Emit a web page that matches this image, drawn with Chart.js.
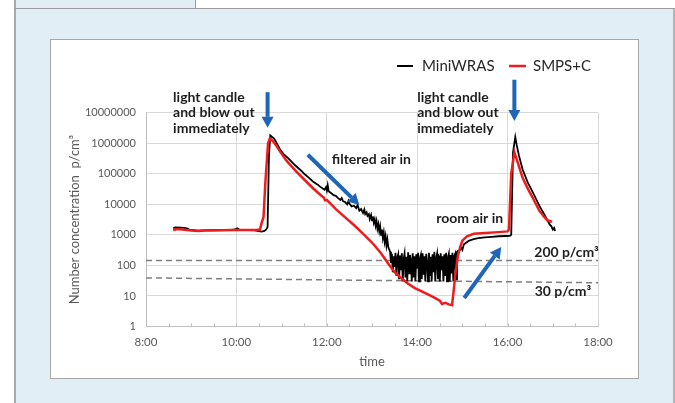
<!DOCTYPE html>
<html>
<head>
<meta charset="utf-8">
<script src="https://cdn.jsdelivr.net/npm/chart.js@4"></script>
<style>
  body { margin: 0; width: 675px; height: 403px; background: #fff; position: relative; overflow: hidden; font-family: Lato, sans-serif; }
  #tab { position: absolute; left: 14px; top: 0; width: 179px; height: 8px; background: #e1eef5; border-left: 2px solid #a9a9a9; border-right: 1px solid #9a9a9a; }
  #panel { position: absolute; left: 14px; top: 8px; width: 657px; height: 400px; background: #e1eef5; border-left: 2px solid #a9a9a9; border-right: 2px solid #b4b4b4; border-top: 1px solid #9a9a9a; }
  #box { position: absolute; left: 50px; top: 39px; width: 587px; height: 338px; background: #fff; border: 1px solid #a6a6a6; }
  canvas { position: absolute; left: 0; top: 0; }
</style>
</head>
<body>
<div id="tab"></div>
<div id="panel"></div>
<div id="box"><canvas id="grafico" width="587" height="338"></canvas></div>
<script>
// time in hours, concentration in p/cm3
const miniTime = [8.60, 8.65, 8.75, 8.85, 8.92, 8.97, 9.05, 9.15, 9.30, 9.45, 9.60, 9.75, 9.90, 9.97, 10.02, 10.08, 10.25, 10.40, 10.50, 10.56, 10.62, 10.66, 10.69, 10.72, 10.75, 10.79, 10.82, 10.85, 10.90, 10.96, 11.05, 11.15,
  11.30, 11.45, 11.50, 11.60, 11.70, 11.80, 11.85, 11.95, 11.98, 12.00, 12.02, 12.04, 12.10, 12.15, 12.20, 12.25, 12.30, 12.33, 12.36, 12.40, 12.45, 12.48, 12.50, 12.55, 12.60, 12.65, 12.68, 12.72, 12.76, 12.80, 12.83, 12.85, 12.88, 12.90, 12.93, 12.95, 12.98, 13.00, 13.02, 13.04, 13.06, 13.08, 13.10, 13.12, 13.14, 13.16, 13.18, 13.20, 13.22, 13.24, 13.26, 13.28, 13.30, 13.32, 13.34, 13.36,
  13.40, 13.42, 13.44, 13.46, 13.48, 13.50, 13.52, 13.54, 13.56, 13.58, 13.60, 13.62, 13.64, 13.66, 13.68, 13.70, 13.72, 13.74, 13.76, 13.78, 13.80, 13.82, 13.84, 13.86, 13.88, 13.90, 13.92, 13.94, 13.96, 13.98, 14.00, 14.02, 14.04, 14.06, 14.08, 14.10, 14.12, 14.14, 14.16, 14.18, 14.20, 14.22, 14.24, 14.26, 14.28, 14.30, 14.32, 14.34, 14.36, 14.38, 14.40, 14.42, 14.44, 14.46, 14.48, 14.50, 14.52, 14.54, 14.56, 14.58, 14.60, 14.62, 14.64, 14.66, 14.68, 14.70, 14.72, 14.74, 14.76, 14.78, 14.80, 14.82, 14.84, 14.86, 14.88, 14.90,
  14.93, 14.97, 15.00, 15.03, 15.08, 15.15, 15.25, 15.35, 15.50, 15.65, 15.80, 15.95, 16.05, 16.08, 16.12, 16.17, 16.20, 16.25, 16.33, 16.45, 16.55, 16.65, 16.72, 16.80, 16.87, 16.93, 16.97, 17.00, 17.03, 17.05];
const miniConc = [1650, 1750, 1720, 1700, 1600, 1450, 1420, 1380, 1400, 1420, 1430, 1420, 1450, 1500, 1650, 1430, 1420, 1400, 1330, 1280, 1350, 1500, 1800, 400000, 1800000, 1600000, 1500000, 1300000, 950000, 650000, 430000, 320000,
  190000, 120000, 100000, 75000, 55000, 44000, 38000, 30000, 36000, 28000, 42000, 27000, 23000, 20000, 19000, 16000, 14000, 16000, 12500, 12000, 10000, 13000, 10500, 8500, 9000, 7500, 9500, 6200, 7000, 5200, 6800, 4800, 5500, 4200, 4800, 3300, 4500, 3000, 4000, 2500, 3200, 2000, 2800, 1600, 2200, 1300, 1900, 1000, 1500, 800, 1200, 600, 900, 450, 700, 400,
  280, 120, 240, 60, 200, 90, 260, 45, 180, 230, 35, 210, 70, 250, 30, 160, 240, 40, 190, 30, 270, 55, 220, 140, 30, 250, 40, 200, 30, 230, 80, 260, 30, 170, 220, 35, 250, 50, 200, 30, 240, 130, 30, 260, 45, 190, 30, 230, 60, 280, 30, 170, 240, 35, 210, 30, 250, 70, 200, 30, 230, 45, 260, 30, 180, 240, 30, 220, 55, 260, 30, 200, 240, 35, 280, 300,
  300, 380, 320, 480, 550, 650, 720, 780, 830, 860, 900, 920, 930, 1000, 500000, 1600000, 900000, 400000, 140000, 50000, 26000, 13000, 8000, 5000, 3200, 2200, 1900, 1500, 1700, 1350];

const smpsTime = [8.60, 8.70, 8.80, 8.90, 9.00, 9.15, 9.30, 9.50, 9.70, 9.90, 10.10, 10.30, 10.45, 10.52, 10.56, 10.60, 10.64, 10.70, 10.74, 10.80, 10.88, 10.96, 11.10, 11.30, 11.50, 11.70, 11.90, 11.93, 11.96, 12.00, 12.20, 12.40, 12.60, 12.80, 13.00, 13.20, 13.35, 13.50, 13.65, 13.80, 13.95, 14.10, 14.25, 14.40, 14.50, 14.55, 14.62, 14.70, 14.77, 14.80, 14.85, 14.90, 14.95, 15.00, 15.10, 15.25, 15.50, 15.80, 16.00, 16.03, 16.08, 16.15, 16.20, 16.33, 16.45, 16.55, 16.70, 16.80, 16.88, 16.95, 16.98];
const smpsConc = [1450, 1550, 1500, 1450, 1400, 1340, 1380, 1400, 1420, 1450, 1440, 1450, 1460, 1480, 2500, 3800, 50000, 1000000, 1450000, 1200000, 850000, 550000, 280000, 130000, 65000, 33000, 18000, 17000, 13500, 14000, 7000, 3800, 2100, 1100, 560, 250, 120, 60, 38, 25, 18, 14, 11, 8.5, 7, 5.5, 6, 5.3, 5, 12, 60, 200, 400, 650, 900, 1080, 1150, 1230, 1300, 1500, 100000, 500000, 300000, 76000, 32000, 17000, 6200, 4000, 3000, 2800, 2600];

// reference levels (dashed lines)
const level200 = [145, 145];
const level30 = [39, 27];
const levelTime = [8, 18];

const timeTicks = [8, 10, 12, 14, 16, 18];
const timeLabels = ["8:00", "10:00", "12:00", "14:00", "16:00", "18:00"];
const concTicks = [1, 10, 100, 1000, 10000, 100000, 1000000, 10000000];

// annotations in data coordinates [hour, value]
const arrows = [
  [10.69, 4.7e7, 10.69, 3.2e6],
  [16.15, 1.2e8, 16.15, 5.3e6],
  [11.58, 4.2e5, 12.72, 9500],
  [15.04, 8.6, 15.86, 400],
];
const notes = [
  { t: 8.6, v: 3.2e7, lines: ["light candle", "and blow out", "immediately"] },
  { t: 14.0, v: 3.2e7, lines: ["light candle", "and blow out", "immediately"] },
  { t: 12.11, v: 3.0e5, lines: ["filtered air in"] },
  { t: 14.42, v: 3550, lines: ["room air in"] },
  { t: 16.59, v: 260, lines: ["200 p/cm³"] },
  { t: 16.6, v: 14, lines: ["30 p/cm³"] },
];

const pts = (xs, ys) => xs.map((t, i) => ({ x: t, y: ys[i] }));

function drawArrow(ctx, x1, y1, x2, y2) {
  const ang = Math.atan2(y2 - y1, x2 - x1);
  const head = 11, half = 6;
  const bx = x2 - head * Math.cos(ang), by = y2 - head * Math.sin(ang);
  ctx.strokeStyle = "#1f66b8";
  ctx.fillStyle = "#1f66b8";
  ctx.lineWidth = 4;
  ctx.beginPath();
  ctx.moveTo(x1, y1);
  ctx.lineTo(bx, by);
  ctx.stroke();
  ctx.beginPath();
  ctx.moveTo(x2, y2);
  ctx.lineTo(bx + half * Math.sin(ang), by - half * Math.cos(ang));
  ctx.lineTo(bx - half * Math.sin(ang), by + half * Math.cos(ang));
  ctx.closePath();
  ctx.fill();
}

const extras = {
  id: "extras",
  afterDraw(chart) {
    const { ctx, scales: { x, y } } = chart;
    ctx.save();
    // minor ticks every 30 min
    ctx.strokeStyle = "#bfbfbf";
    ctx.lineWidth = 1;
    for (let h = 8.5; h < 18; h += 0.5) {
      const px = Math.round(x.getPixelForValue(h)) + 0.5;
      ctx.beginPath();
      ctx.moveTo(px, y.bottom);
      ctx.lineTo(px, y.bottom - 3);
      ctx.stroke();
    }
    arrows.forEach(a => drawArrow(ctx, x.getPixelForValue(a[0]), y.getPixelForValue(a[1]), x.getPixelForValue(a[2]), y.getPixelForValue(a[3])));
    ctx.fillStyle = "#1e1e1e";
    ctx.font = "bold 14px Lato";
    ctx.textBaseline = "middle";
    ctx.textAlign = "left";
    notes.forEach(n => {
      const px = x.getPixelForValue(n.t), py = y.getPixelForValue(n.v);
      n.lines.forEach((s, i) => ctx.fillText(s, px, py + i * 15.5));
    });
    // legend
    ctx.font = "15px Lato";
    ctx.fillStyle = "#262626";
    ctx.lineWidth = 2;
    ctx.strokeStyle = "#000";
    ctx.beginPath(); ctx.moveTo(346, 26); ctx.lineTo(362, 26); ctx.stroke();
    ctx.fillText("MiniWRAS", 371, 26);
    ctx.strokeStyle = "#ee1c1c";
    ctx.lineWidth = 2.5;
    ctx.beginPath(); ctx.moveTo(458, 26); ctx.lineTo(475, 26); ctx.stroke();
    ctx.fillText("SMPS+C", 482, 26);
    ctx.restore();
  }
};

new Chart(document.getElementById("grafico"), {
  type: "line",
  data: {
    datasets: [
      {
        label: "SMPS+C",
        data: pts(smpsTime, smpsConc),
        borderColor: "#ee1c1c",
        borderWidth: 2.5,
        pointRadius: 0,
        tension: 0,
      },
      {
        label: "MiniWRAS",
        data: pts(miniTime, miniConc),
        borderColor: "#000000",
        borderWidth: 1.8,
        pointRadius: 0,
        tension: 0,
      },
      {
        label: "200",
        data: pts(levelTime, level200),
        borderColor: "#7f7f7f",
        borderWidth: 1.5,
        borderDash: [6, 4],
        pointRadius: 0,
      },
      {
        label: "30",
        data: pts(levelTime, level30),
        borderColor: "#7f7f7f",
        borderWidth: 1.5,
        borderDash: [6, 4],
        pointRadius: 0,
      },
    ],
  },
  options: {
    responsive: false,
    animation: false,
    devicePixelRatio: 1,
    layout: { padding: { top: 72.7, right: 40, left: 0, bottom: 0 } },
    plugins: { legend: { display: false }, tooltip: { enabled: false } },
    scales: {
      x: {
        type: "linear",
        min: 8,
        max: 18,
        afterFit: s => { s.height = 51.5; },
        afterBuildTicks: s => { s.ticks = timeTicks.map(v => ({ value: v })); },
        ticks: {
          color: "#595959",
          font: { family: "Lato", size: 11.5 },
          padding: 9,
          maxRotation: 0,
          callback: v => timeLabels[timeTicks.indexOf(v)],
        },
        grid: { color: "#d9d9d9", drawTicks: false },
        border: { color: "#bfbfbf" },
        title: { display: true, text: "time", color: "#595959", font: { family: "Lato", size: 13 }, padding: { top: 0, bottom: 8 } },
      },
      y: {
        type: "logarithmic",
        min: 1,
        max: 10000000,
        afterFit: s => { s.width = 95; },
        afterBuildTicks: s => { s.ticks = concTicks.map(v => ({ value: v })); },
        ticks: {
          color: "#595959",
          font: { family: "Lato", size: 11 },
          padding: 10,
          callback: v => String(v),
        },
        grid: { color: "#d9d9d9", drawTicks: false },
        border: { color: "#bfbfbf" },
        title: { display: true, text: "Number concentration  p/cm³", color: "#595959", font: { family: "Lato", size: 13 }, padding: { top: 16, bottom: 0 } },
      },
    },
  },
  plugins: [extras],
});
</script>
</body>
</html>
